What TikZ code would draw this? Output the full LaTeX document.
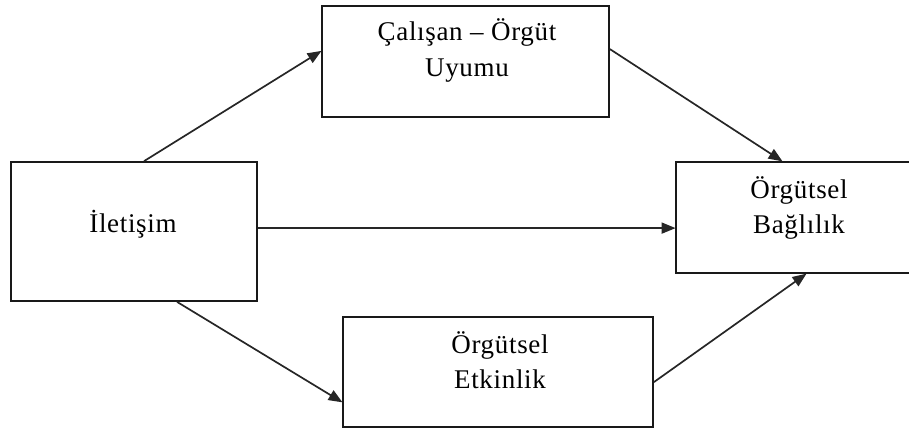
\documentclass[tikz,border=0pt]{standalone}
\usepackage{fontspec}
\setmainfont[LetterSpace=2.5]{Liberation Serif}
\usetikzlibrary{arrows.meta,calc}

\tikzset{
  box/.style={draw=black!90, line width=1.8pt, rectangle, inner sep=0pt},
  lbl/.style={anchor=base, inner sep=0pt, font=\fontsize{27}{33}\selectfont, text=black},
  link/.style={draw=black!85, line width=1.7pt,
    -{Triangle[length=14pt,width=11pt]}, shorten >=-0.5pt}
}

\begin{document}
\begin{tikzpicture}[x=1pt,y=-1pt]
  \useasboundingbox (0,0) rectangle (909,429);
  \clip (0,0) rectangle (909,429);

  % boxes
  \node[box, minimum width=246pt, minimum height=139pt] (itl) at (134,231.5) {};
  \node[box, minimum width=287pt, minimum height=111pt] (cal) at (465.5,61.5) {};
  \node[box, minimum width=240pt, minimum height=111pt] (bag) at (796,217.5) {};
  \node[box, minimum width=310pt, minimum height=110pt] (etk) at (498,372) {};

  % labels
  \node[lbl] (itlA) at (133,232) {İletişim};
  \node[lbl] (calA) at (467,40) {Çalışan – Örgüt};
  \node[lbl] (calB) at (467,76) {Uyumu};
  \node[lbl] (bagA) at (799,198) {Örgütsel};
  \node[lbl] (bagB) at (799,233) {Bağlılık};
  \node[lbl] (etkA) at (500,353) {Örgütsel};
  \node[lbl] (etkB) at (500,388) {Etkinlik};

  % connectors
  \draw[link] ($(itl.north west)+(134,0)$) -- ($(cal.north west)+(0,46)$);
  \draw[link] ($(cal.north east)+(0,44)$) -- ($(bag.north west)+(107,0)$);
  \draw[link] ($(itl.north east)+(0,67)$) -- ($(bag.north west)+(0,67)$);
  \draw[link] ($(itl.south west)+(167,0)$) -- ($(etk.north west)+(0,86)$);
  \draw[link] ($(etk.north east)+(0,66)$) -- ($(bag.south west)+(131,0)$);
\end{tikzpicture}
\end{document}
